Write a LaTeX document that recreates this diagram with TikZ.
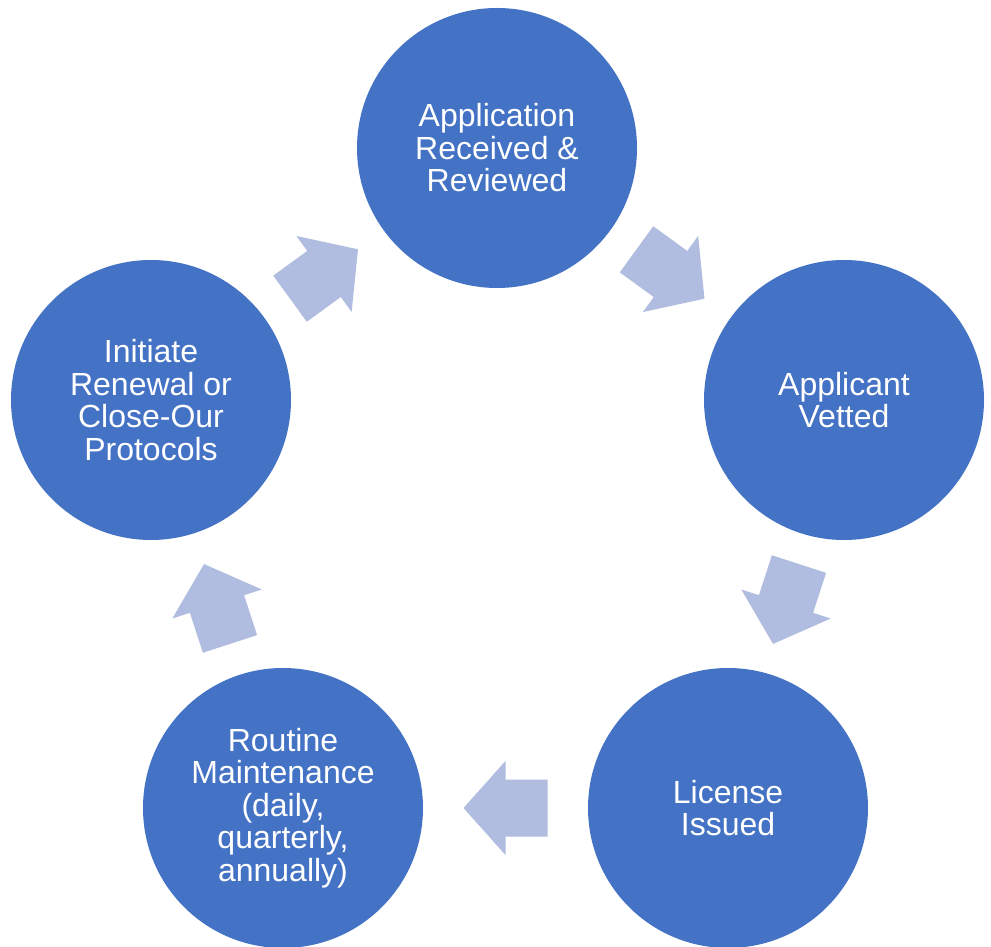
\documentclass[tikz,border=0pt]{standalone}
\usepackage{fontspec}
\setmainfont{Liberation Sans}
\usetikzlibrary{calc}
\definecolor{stageblue}{HTML}{4472C4}
\definecolor{arrowblue}{RGB}{177,189,224}
\tikzset{
  stage/.style={circle, fill=stageblue, minimum size=280pt, inner sep=0pt,
    text=white, align=center, font=\fontsize{32}{32.5}\selectfont},
  cyclearrow/.pic={
    \fill[arrowblue] (-42,28.5) -- (0,28.5) -- (0,47) -- (42,0) -- (0,-47)
      -- (0,-28.5) -- (-42,-28.5) -- cycle;
  }
}
\begin{document}
\begin{tikzpicture}[x=1pt, y=1pt]
  \fill[white] (0,0) rectangle (991,946);
  \useasboundingbox (0,0) rectangle (991,946);

  % five stages of the cycle
  \node[stage] (A) at (497,798) {Application\\Received \&\\Reviewed};
  \node[stage] (B) at (844,546) {Applicant\\Vetted};
  \node[stage] (C) at (728,138) {License\\Issued};
  \node[stage] (D) at (283,138) {Routine\\Maintenance\\(daily,\\quarterly,\\annually)};
  \node[stage] (E) at (151,546) {Initiate\\Renewal or\\Close-Our\\Protocols};

  % block arrows halfway between consecutive stages
  \pic[rotate=-36]  at ($(A)!0.5!(B)$) {cyclearrow};
  \pic[rotate=-108] at ($(B)!0.5!(C)$) {cyclearrow};
  \pic[rotate=180]  at ($(C)!0.5!(D)$) {cyclearrow};
  \pic[rotate=108]  at ($(D)!0.5!(E)$) {cyclearrow};
  \pic[rotate=36]   at ($(E)!0.5!(A)$) {cyclearrow};
\end{tikzpicture}
\end{document}
